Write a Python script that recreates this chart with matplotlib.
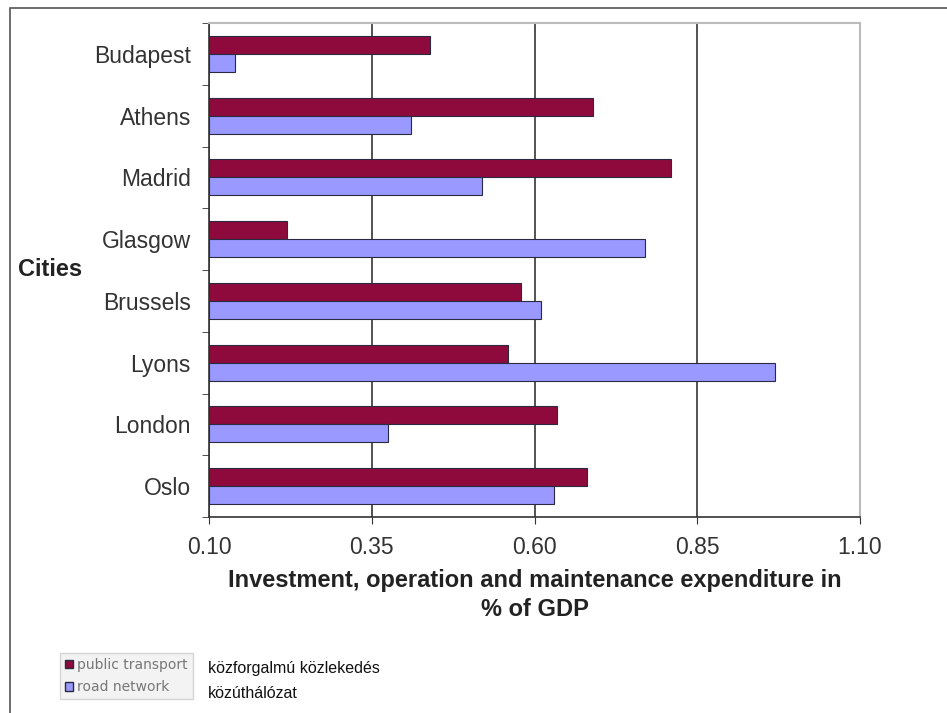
import matplotlib
matplotlib.use("Agg")
import matplotlib.pyplot as plt
from matplotlib.patches import Rectangle, Patch
import numpy as np

plt.rcParams['font.family'] = ['Liberation Sans', 'DejaVu Sans']

cities = ["Budapest", "Athens", "Madrid", "Glasgow", "Brussels", "Lyons", "London", "Oslo"]
public_transport = [0.44, 0.69, 0.81, 0.22, 0.58, 0.56, 0.635, 0.68]
road_network = [0.14, 0.41, 0.52, 0.77, 0.61, 0.97, 0.375, 0.63]
x_ticks = [0.10, 0.35, 0.60, 0.85, 1.10]
legend_labels = ["public transport", "road network"]
hu_labels = ["közforgalmú közlekedés", "közúthálózat"]

col_pub = "#8E0A3C"
col_road = "#9999FF"
edge = "#2a2a40"

W, H = 947, 713
fig = plt.figure(figsize=(W / 100, H / 100), dpi=100)

# outer frame
fig.patches.append(Rectangle((10 / W, -0.1), 1.2, 1 - 8 / H + 0.1, transform=fig.transFigure,
                             fill=False, edgecolor="#555555", linewidth=1.2))

ax = fig.add_axes([209 / W, 1 - 517 / H, (860 - 209) / W, (517 - 23) / H])
y = np.arange(len(cities))
h = 0.29
base = x_ticks[0]
ax.barh(y - h / 2, np.array(public_transport) - base, left=base, height=h,
        color=col_pub, edgecolor=edge, linewidth=0.8, zorder=3)
ax.barh(y + h / 2, np.array(road_network) - base, left=base, height=h,
        color=col_road, edgecolor=edge, linewidth=0.8, zorder=3)

ax.set_xlim(x_ticks[0], x_ticks[-1])
ax.set_ylim(len(cities) - 0.5, -0.5)
ax.set_xticks(x_ticks)
ax.set_xticklabels([f"{v:.2f}" for v in x_ticks], fontsize=16.5, color="#333333")
ax.set_yticks(y)
ax.set_yticklabels(cities, fontsize=16.5, color="#333333")
ax.set_yticks(np.arange(len(cities) + 1) - 0.5, minor=True)
ax.tick_params(axis='y', which='major', length=0, pad=13)
ax.tick_params(axis='y', which='minor', length=5, direction='out', color="#333333")
ax.tick_params(axis='x', which='major', length=5, direction='out', color="#333333", pad=9)
ax.xaxis.grid(True, color="#444444", linewidth=1.3, zorder=0)
ax.set_axisbelow(True)

for s in ["top", "right"]:
    ax.spines[s].set_color("#bbbbbb")
    ax.spines[s].set_linewidth(1.5)
for s in ["left", "bottom"]:
    ax.spines[s].set_color("#333333")
    ax.spines[s].set_linewidth(1.2)

ax.set_xlabel("Investment, operation and maintenance expenditure in\n% of GDP",
              fontsize=17, fontweight="bold", color="#222222", labelpad=7,
              linespacing=1.3)
fig.text(50 / W, 1 - 270 / H, "Cities", fontsize=17, fontweight="bold",
         color="#222222", ha="center", va="center")

# legend
handles = [Patch(facecolor=col_pub, edgecolor=edge), Patch(facecolor=col_road, edgecolor=edge)]
leg = fig.legend(handles, legend_labels, loc="upper left",
                 bbox_to_anchor=(60 / W, 1 - 653 / H), prop={"family": "DejaVu Sans", "size": 10},
                 frameon=True, handlelength=0.6, handleheight=0.6, handletextpad=0.3,
                 borderpad=0.35, labelspacing=0.6, fancybox=False, borderaxespad=0)
leg.get_frame().set_edgecolor("#cccccc")
leg.get_frame().set_facecolor("#f0f0f0")
for t in leg.get_texts():
    t.set_color("#777777")

fig.text(208 / W, 1 - 668 / H, hu_labels[0], fontsize=11.5, color="#111111", va="center")
fig.text(208 / W, 1 - 693 / H, hu_labels[1], fontsize=11.5, color="#111111", va="center")

fig.savefig("out.png", dpi=100)
